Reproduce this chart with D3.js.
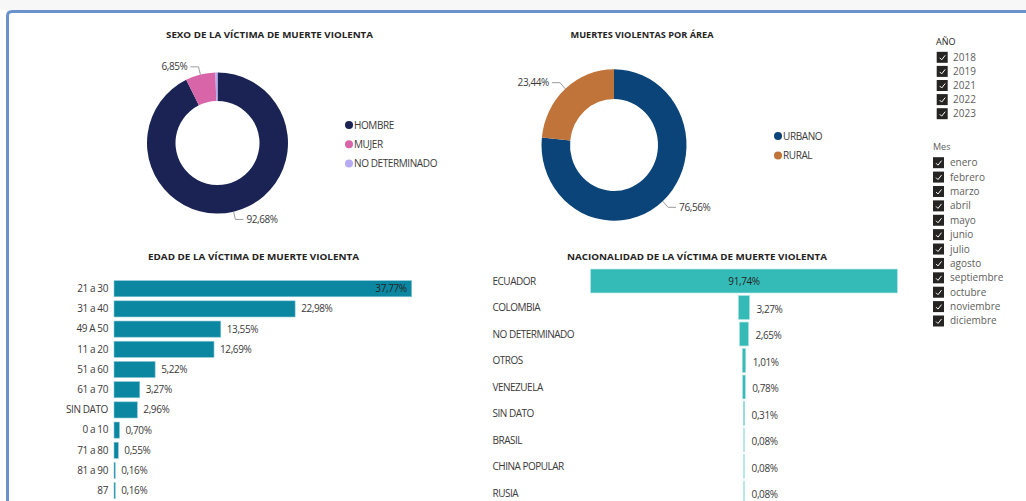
<!DOCTYPE html>
<html><head><meta charset="utf-8">
<script src="https://cdn.jsdelivr.net/npm/d3@7"></script>
<style>
html,body{margin:0;padding:0;background:#fff;}
svg{display:block;font-family:"Open Sans","Noto Sans",sans-serif;}
</style></head>
<body>
<svg id="c" width="1026" height="501"></svg>
<script>
// ---------- DATA ----------
const sexCats = ["HOMBRE", "MUJER", "NO DETERMINADO"];
const sexVals = [92.68, 6.85, 0.47];
const sexLabels = ["92,68%", "6,85%", ""];
const areaCats = ["URBANO", "RURAL"];
const areaVals = [76.56, 23.44];
const areaLabels = ["76,56%", "23,44%"];
const ageCats = ["21 a 30", "31 a 40", "49 A 50", "11 a 20", "51 a 60", "61 a 70", "SIN DATO", "0 a 10", "71 a 80", "81 a 90", "87"];
const ageVals = [37.77, 22.98, 13.55, 12.69, 5.22, 3.27, 2.96, 0.70, 0.55, 0.16, 0.16];
const ageLabels = ["37,77%", "22,98%", "13,55%", "12,69%", "5,22%", "3,27%", "2,96%", "0,70%", "0,55%", "0,16%", "0,16%"];
const natCats = ["ECUADOR", "COLOMBIA", "NO DETERMINADO", "OTROS", "VENEZUELA", "SIN DATO", "BRASIL", "CHINA POPULAR", "RUSIA"];
const natVals = [91.74, 3.27, 2.65, 1.01, 0.78, 0.31, 0.08, 0.08, 0.08];
const natLabels = ["91,74%", "3,27%", "2,65%", "1,01%", "0,78%", "0,31%", "0,08%", "0,08%", "0,08%"];
const years = ["2018", "2019", "2021", "2022", "2023"];
const months = ["enero", "febrero", "marzo", "abril", "mayo", "junio", "julio", "agosto", "septiembre", "octubre", "noviembre", "diciembre"];
const titles = ["SEXO DE LA VÍCTIMA DE MUERTE VIOLENTA", "MUERTES VIOLENTAS POR ÁREA", "EDAD DE LA VÍCTIMA DE MUERTE VIOLENTA", "NACIONALIDAD DE LA VÍCTIMA DE MUERTE VIOLENTA"];

const sexColors = ["#1a2353", "#d865a8", "#b6aaf2"];
const areaColors = ["#0b4479", "#c0743a"];
const txt = "#3b3a39";

const svg = d3.select("#c");

// ---------- FRAME ----------
svg.append("rect").attr("x", 0).attr("y", 0).attr("width", 1026).attr("height", 10).attr("fill", "#f7f7f7");
svg.append("path").attr("d", "M7.5,501 L7.5,16 Q7.5,11.5 12,11.5 L1026,11.5")
  .attr("fill", "none").attr("stroke", "#6a93cb").attr("stroke-width", 3);

// ---------- TITLES ----------
const titlePos = [[269.5, 37.5, 207], [642, 37.5, 143], [253.5, 260, 211], [697, 259.5, 260]];
titles.forEach((t, i) => {
  svg.append("text").attr("x", titlePos[i][0]).attr("y", titlePos[i][1])
    .attr("text-anchor", "middle").attr("font-size", 9.5).attr("font-weight", 700)
    .attr("fill", "#252423").attr("textLength", titlePos[i][2]).attr("lengthAdjust", "spacingAndGlyphs")
    .text(t);
});

// ---------- DONUTS ----------
function donut(cx, cy, rOut, rIn, sy, cats, vals, labels, colors, legX, legY, legStep) {
  const g = svg.append("g").attr("transform", `translate(${cx},${cy}) scale(1,${sy})`);
  const pie = d3.pie().sort(null).value(d => d)(vals);
  const arc = d3.arc().innerRadius(rIn).outerRadius(rOut);
  g.selectAll("path.s").data(pie).join("path").attr("class", "s")
    .attr("d", arc).attr("fill", (d, i) => colors[i]);
  const lg = svg.append("g").attr("transform", `translate(${cx},${cy})`);
  pie.forEach((d, i) => {
    if (!labels[i]) return;
    const a = (d.startAngle + d.endAngle) / 2;
    const p1 = [Math.sin(a) * rOut, -Math.cos(a) * rOut * sy];
    const p2 = [Math.sin(a) * (rOut + 8), -Math.cos(a) * (rOut + 8) * sy];
    const right = Math.sin(a) >= 0;
    const p3 = [p2[0] + (right ? 8 : -8), p2[1]];
    lg.append("polyline").attr("points", [p1, p2, p3].map(p => p.join(",")).join(" "))
      .attr("fill", "none").attr("stroke", "#9a9a9a").attr("stroke-width", 1);
    lg.append("text").attr("x", p3[0] + (right ? 3 : -3)).attr("y", p3[1]).attr("dy", "0.35em")
      .attr("text-anchor", right ? "start" : "end").attr("font-size", 10).attr("fill", txt)
      .attr("letter-spacing", -0.4).text(labels[i]);
  });
  cats.forEach((c, i) => {
    svg.append("circle").attr("cx", legX).attr("cy", legY + i * legStep).attr("r", 4).attr("fill", colors[i]);
    svg.append("text").attr("x", legX + 5).attr("y", legY + i * legStep).attr("dy", "0.35em")
      .attr("font-size", 10).attr("fill", txt).attr("letter-spacing", -0.4).text(c);
  });
}
donut(217.5, 143, 70.5, 42, 1, sexCats, sexVals, sexLabels, sexColors, 349, 125, 19.2);
donut(614, 145, 72.5, 44, 1.045, areaCats, areaVals, areaLabels, areaColors, 778, 136, 19.5);

// ---------- AGE BAR CHART ----------
const ageY = d3.scaleBand().domain(ageCats).range([278.6, 500.8]).paddingInner(0.2).paddingOuter(0.1);
const ageX = d3.scaleLinear().domain([0, d3.max(ageVals)]).range([114, 411.7]);
const ag = svg.append("g");
ag.selectAll("rect").data(ageVals).join("rect")
  .attr("x", ageX(0)).attr("y", (d, i) => ageY(ageCats[i]))
  .attr("width", d => Math.max(1.2, ageX(d) - ageX(0))).attr("height", ageY.bandwidth())
  .attr("fill", "#0b87a1").attr("stroke", "#8fcbd8").attr("stroke-width", 0.6);
const ageAxis = d3.axisLeft(ageY).tickSize(0).tickPadding(6);
const aAx = svg.append("g").attr("transform", "translate(114,0)").call(ageAxis);
aAx.select(".domain").remove();
aAx.selectAll("text").attr("font-size", 10).attr("fill", txt).attr("letter-spacing", -0.4)
  .attr("font-family", "'Open Sans','Noto Sans',sans-serif");
const maxAge = d3.max(ageVals);
ag.selectAll("text").data(ageVals).join("text")
  .attr("x", d => d === maxAge ? ageX(d) - 5 : ageX(d) + 6)
  .attr("y", (d, i) => ageY(ageCats[i]) + ageY.bandwidth() / 2).attr("dy", "0.35em")
  .attr("text-anchor", d => d === maxAge ? "end" : "start")
  .attr("font-size", 10).attr("fill", d => d === maxAge ? "#252423" : txt).attr("letter-spacing", -0.4)
  .text((d, i) => ageLabels[i]);

// ---------- NATIONALITY FUNNEL ----------
const natY = d3.scaleBand().domain(natCats).range([267.75, 506.25]).paddingInner(0.1).paddingOuter(0.05);
const natW = d3.scaleLinear().domain([0, d3.max(natVals)]).range([0, 306.6]);
const fcx = 744;
const ng = svg.append("g");
ng.selectAll("rect").data(natVals).join("rect")
  .attr("x", d => fcx - Math.max(0.6, natW(d) / 2)).attr("y", (d, i) => natY(natCats[i]))
  .attr("width", d => Math.max(1.2, natW(d))).attr("height", natY.bandwidth())
  .attr("fill", "#34bbb8").attr("stroke", "#a6e0de").attr("stroke-width", 0.6)
  .attr("fill-opacity", d => d < 0.2 ? 0.35 : 1);
natCats.forEach((c, i) => {
  svg.append("text").attr("x", 492.5).attr("y", natY(c) + natY.bandwidth() / 2).attr("dy", "0.35em")
    .attr("font-size", 10).attr("fill", txt).attr("letter-spacing", -0.5).text(c);
});
const maxNat = d3.max(natVals);
ng.selectAll("text").data(natVals).join("text")
  .attr("x", d => d === maxNat ? fcx : fcx + Math.max(0.6, natW(d) / 2) + 7)
  .attr("y", (d, i) => natY(natCats[i]) + natY.bandwidth() / 2 + (d === maxNat ? 0 : 1.5)).attr("dy", "0.35em")
  .attr("text-anchor", d => d === maxNat ? "middle" : "start")
  .attr("font-size", 10).attr("fill", d => d === maxNat ? "#252423" : txt).attr("letter-spacing", -0.4)
  .text((d, i) => natLabels[i]);

// ---------- SLICERS ----------
function check(x, yc) {
  svg.append("rect").attr("x", x).attr("y", yc - 5.5).attr("width", 11).attr("height", 11).attr("fill", "#252423");
  svg.append("path").attr("d", `M${x + 3},${yc + 0.5} L${x + 5},${yc + 2.5} L${x + 8.5},${yc - 2}`)
    .attr("fill", "none").attr("stroke", "#ffffff").attr("stroke-width", 1);
}
svg.append("text").attr("x", 936).attr("y", 42).attr("dy", "0.35em").attr("font-size", 9).attr("fill", "#252423").text("AÑO");
years.forEach((y, i) => {
  const yc = 57.3 + i * 14.1;
  check(936.7, yc);
  svg.append("text").attr("x", 953).attr("y", yc).attr("dy", "0.35em").attr("font-size", 10).attr("fill", "#605e5c").text(y);
});
svg.append("text").attr("x", 933).attr("y", 147).attr("dy", "0.35em").attr("font-size", 9).attr("fill", "#605e5c").text("Mes");
months.forEach((m, i) => {
  const yc = 162.7 + i * 14.39;
  check(933, yc);
  svg.append("text").attr("x", 950).attr("y", yc).attr("dy", "0.35em").attr("font-size", 10).attr("fill", "#605e5c").text(m);
});
</script>
</body></html>
